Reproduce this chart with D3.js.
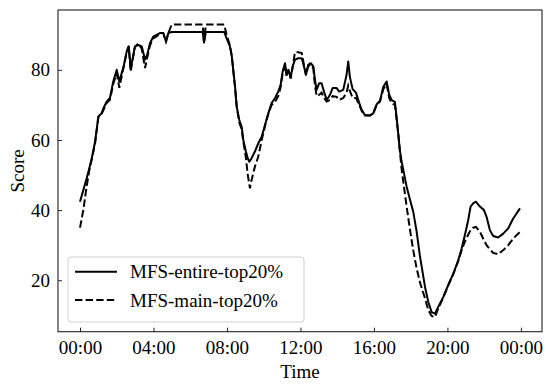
<!DOCTYPE html>
<html>
<head>
<meta charset="utf-8">
<script src="https://cdn.jsdelivr.net/npm/d3@7"></script>
<style>
  html, body { margin: 0; padding: 0; background: #fff; }
  svg { display: block; }
  text { font-family: "Liberation Serif", "Times New Roman", serif; fill: #000; }
</style>
</head>
<body>
<svg id="chart" width="550" height="385"></svg>
<script>
// Time in hours since 00:00
const hours = [0.00,0.18,0.36,0.51,0.64,0.82,1.00,1.18,1.27,1.45,1.63,1.81,2.00,2.14,2.32,2.39,2.54,2.65,2.76,2.87,2.99,3.17,3.36,3.54,3.66,3.81,3.99,4.17,4.35,4.53,4.68,4.81,4.99,6.68,6.75,6.85,7.85,7.98,8.16,8.26,8.34,8.44,8.53,8.67,8.80,8.89,9.03,9.12,9.21,9.25,9.34,9.52,9.70,9.89,10.07,10.25,10.43,10.61,10.79,10.92,11.03,11.16,11.25,11.34,11.47,11.58,11.70,11.88,12.07,12.19,12.30,12.42,12.56,12.70,12.79,12.88,13.02,13.15,13.28,13.43,13.61,13.75,13.97,14.11,14.33,14.51,14.60,14.69,14.84,15.02,15.20,15.33,15.51,15.78,15.96,16.15,16.33,16.51,16.69,16.83,16.96,17.14,17.23,17.32,17.41,17.50,17.60,17.78,17.96,18.14,18.32,18.50,18.60,18.78,18.96,19.14,19.32,19.50,19.77,20.04,20.32,20.59,20.77,20.95,21.13,21.26,21.40,21.55,21.77,21.99,22.13,22.31,22.49,22.76,23.04,23.31,23.58,23.95];

const entireTop20 = [42.4,45.7,49.0,52.0,54.8,59.5,66.7,67.6,69.0,70.9,72.0,76.7,80.0,76.7,80.0,81.4,85.2,86.7,80.5,83.3,86.7,87.1,86.7,82.9,84.3,87.6,89.5,90.0,90.5,90.5,88.1,90.5,90.8,90.8,87.8,90.8,90.8,89.0,86.7,84.0,80.0,75.2,69.5,65.7,63.8,60.0,56.7,55.0,53.8,54.0,54.8,56.7,59.0,60.9,64.3,67.6,70.5,71.9,73.8,75.7,79.5,81.9,78.6,80.0,78.0,81.0,82.9,83.3,83.3,81.0,78.6,81.4,81.9,81.0,77.1,74.3,76.2,76.2,73.8,71.4,72.9,74.8,74.8,73.8,74.3,78.6,82.4,78.0,74.5,73.5,70.5,68.6,67.1,67.0,67.6,70.2,71.2,75.2,76.7,72.9,71.4,70.9,66.7,61.9,57.1,54.0,51.4,46.7,43.0,39.5,34.0,27.0,23.8,18.1,13.8,10.9,10.5,12.4,15.2,18.6,21.9,25.7,29.0,32.9,37.1,41.0,41.9,42.4,41.0,40.0,38.1,34.3,32.6,32.2,33.3,34.8,37.6,40.5];

const mainTop20 = [35.0,40.0,46.7,51.4,54.5,59.0,66.5,67.6,68.5,70.5,71.5,76.0,79.0,74.9,79.5,81.0,85.0,86.7,79.5,83.0,86.5,87.5,86.0,80.5,83.5,87.0,89.0,89.5,90.5,90.5,88.0,90.5,92.9,92.9,88.0,92.9,92.9,90.0,87.0,84.0,80.0,75.0,69.5,65.0,63.0,59.5,55.0,50.5,47.5,46.2,48.6,52.4,55.2,60.0,64.0,67.5,70.0,70.8,72.5,75.0,79.0,81.5,78.0,80.0,77.5,81.0,85.0,85.0,84.8,81.5,78.5,81.0,81.5,80.5,75.5,72.5,72.9,73.5,72.0,71.0,71.4,72.5,72.3,71.4,72.0,73.5,75.5,74.0,72.0,72.0,70.0,68.3,67.0,67.0,67.5,70.0,71.0,74.5,76.0,72.0,70.5,70.0,66.0,62.0,57.0,52.0,48.0,41.0,34.5,28.5,23.5,19.5,17.8,14.8,11.5,9.8,9.5,12.0,15.0,18.5,21.8,25.5,28.5,31.0,33.0,34.3,35.0,35.2,33.8,31.4,30.0,28.8,27.8,27.4,28.6,30.0,31.9,33.8];

const seriesNames = ["MFS-entire-top20%", "MFS-main-top20%"];
const xTickHours = [0, 4, 8, 12, 16, 20, 24];
const xTickLabels = ["00:00", "04:00", "08:00", "12:00", "16:00", "20:00", "00:00"];
const yTicks = [20, 40, 60, 80];

const svg = d3.select("#chart");
const m = { left: 58, top: 10, right: 8, bottom: 53.3 };
const W = 550 - m.left - m.right;
const H = 385 - m.top - m.bottom;
const g = svg.append("g").attr("transform", `translate(${m.left},${m.top})`);

// matplotlib-like 5% margins
const xMin = d3.min(hours), xMax = d3.max(hours);
const allY = entireTop20.concat(mainTop20);
const yMin = d3.min(allY), yMax = d3.max(allY);
const xPad = (xMax - xMin) * 0.05, yPad = (yMax - yMin) * 0.05;

const x = d3.scaleLinear().domain([xMin - xPad, xMax + xPad]).range([0, W]);
const y = d3.scaleLinear().domain([yMin - yPad, yMax + yPad]).range([H, 0]);

const fontSize = 19;

// Axes with inward ticks
const xAxis = d3.axisBottom(x).tickValues(xTickHours)
  .tickFormat((d, i) => xTickLabels[i]).tickSizeInner(-4).tickSizeOuter(0).tickPadding(9);
const yAxis = d3.axisLeft(y).tickValues(yTicks).tickSizeInner(-4).tickSizeOuter(0).tickPadding(8);

const gx = g.append("g").attr("transform", `translate(0,${H})`).call(xAxis);
const gy = g.append("g").call(yAxis);
[gx, gy].forEach(a => {
  a.select(".domain").remove();
  a.selectAll(".tick line").attr("stroke", "#222").attr("stroke-width", 1);
  a.selectAll(".tick text").style("font-family", "Liberation Serif, serif").style("font-size", fontSize + "px").attr("fill", "#000");
});

// Lines
const lineGen = vals => d3.line().x((d, i) => x(hours[i])).y(d => y(d))(vals);
g.append("path").attr("d", lineGen(entireTop20))
  .attr("fill", "none").attr("stroke", "#000").attr("stroke-width", 2).attr("stroke-linejoin", "round");
g.append("path").attr("d", lineGen(mainTop20))
  .attr("fill", "none").attr("stroke", "#000").attr("stroke-width", 2).attr("stroke-dasharray", "7.4,3.2");

// Frame
g.append("rect").attr("x", 0).attr("y", 0).attr("width", W).attr("height", H)
  .attr("fill", "none").attr("stroke", "#222").attr("stroke-width", 1.1);

// Axis titles
svg.append("text").attr("x", m.left + W / 2).attr("y", 378)
  .attr("text-anchor", "middle").style("font-size", fontSize + "px").text("Time");
svg.append("text").attr("transform", `translate(24,${m.top + H / 2}) rotate(-90)`)
  .attr("text-anchor", "middle").style("font-size", fontSize + "px").text("Score");

// Legend
const lg = svg.append("g");
lg.append("rect").attr("x", 68).attr("y", 257).attr("width", 236).attr("height", 65)
  .attr("rx", 3).attr("fill", "#fff").attr("fill-opacity", 0.8)
  .attr("stroke", "#d0d0d0").attr("stroke-width", 1);
const legendRows = [
  { name: seriesNames[0], dash: null, yy: 271.7 },
  { name: seriesNames[1], dash: "7.4,3.2", yy: 300 }
];
legendRows.forEach(r => {
  const ln = lg.append("line").attr("x1", 75).attr("x2", 117).attr("y1", r.yy).attr("y2", r.yy)
    .attr("stroke", "#000").attr("stroke-width", 2);
  if (r.dash) ln.attr("stroke-dasharray", r.dash);
  lg.append("text").attr("x", 130).attr("y", r.yy).attr("dy", "0.35em")
    .style("font-size", fontSize + "px").text(r.name);
});
</script>
</body>
</html>
